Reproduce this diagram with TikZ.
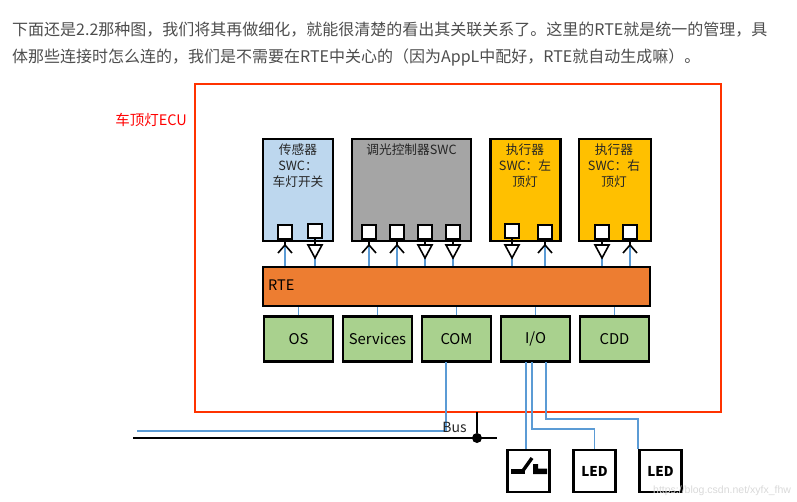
\documentclass[tikz,border=0pt]{standalone}
\usepackage{xcolor}
\usepackage{fontspec}
\setmainfont{Noto Sans CJK SC}
\newfontfamily\markfont{Liberation Sans}
\usepackage{tikz}
\usetikzlibrary{arrows.meta,positioning,shapes.geometric,calc}
\definecolor{swcblue}{HTML}{BDD7EE}
\definecolor{swcgray}{HTML}{A5A5A5}
\definecolor{swcyellow}{HTML}{FFC000}
\definecolor{rteorange}{HTML}{ED7D31}
\definecolor{bswgreen}{HTML}{A9D18E}
\definecolor{wireblue}{HTML}{5B9BD5}
\definecolor{framered}{HTML}{FF3300}
\definecolor{bodygray}{HTML}{4D4D4D}
\tikzset{
    swc/.style={
        draw,
        line width=2.1pt,
        minimum height=102pt,
        minimum width=70pt
    },
    swctext/.style={
        align=center,
        font=\fontsize{12.7}{16}\selectfont,
        text=black!85,
        inner sep=0pt
    },
    bsw/.style={
        draw,
        line width=2.1pt,
        minimum height=45pt,
        minimum width=68.5pt,
        fill=bswgreen,
        font=\fontsize{14.8}{16}\selectfont
    },
    periph/.style={
        draw,
        line width=2.1pt,
        minimum size=42pt,
        font=\bfseries\fontsize{13.5}{16}\selectfont
    },
    port/.style={
        draw,
        fill=white,
        line width=2pt,
        minimum size=14pt,
        inner sep=0pt
    },
    wire/.style={wireblue, line width=1.5pt},
    para/.style={
        anchor=west,
        text=bodygray,
        inner sep=0pt,
        font=\fontsize{16}{18}\selectfont
    }
}
% one port with the head pointing up, towards the swc
\newcommand{\portin}[3]{
    \node[port] (#1) at (#2,#3) {};
    \coordinate (#1tip) at (#2,245);
    \draw[wire] (#1tip) -- (#1tip |- rte.north);
    \draw[line width=1.6pt] (#1) -- (#1tip);
    \draw[line width=1.6pt] ($(#1tip)+(-7,8)$) -- (#1tip) -- ($(#1tip)+(7,8)$);
}
% one port with the triangle pointing down, towards the rte
\newcommand{\portout}[3]{
    \node[port] (#1) at (#2,#3) {};
    \coordinate (#1tip) at (#2,258);
    \draw[wire] (#1tip) -- (#1tip |- rte.north);
    \draw[line width=1.6pt] (#1) -- (#2,245);
    \draw[line width=1.6pt] (#2-7,245) -- (#2+7,245) -- (#1tip) -- cycle;
}
\begin{document}
\begin{tikzpicture}[x=1pt,y=-1pt,node distance=8.4pt and 8.4pt]
    \useasboundingbox (0,0) rectangle (797,501);

    \node[para] (line1) at (12,30) {下面还是2.2那种图，我们将其再做细化，就能很清楚的看出其关联关系了。这里的RTE就是统一的管理，具};
    \node[para] (line2) at (12,57) {体那些连接时怎么连的，我们是不需要在RTE中关心的（因为AppL中配好，RTE就自动生成嘛）。};

    \node[draw=framered, line width=1.5pt, minimum width=526pt, minimum height=328pt] (ecu) at (458,248) {};
    \node[text=red, inner sep=0pt, font=\fontsize{14.5}{16}\selectfont, anchor=east] (ecuname) at (187,120) {车顶灯ECU};

    \node[draw, line width=2.1pt, fill=rteorange, minimum width=387pt, minimum height=39pt] (rte) at (456.5,286.5) {};
    \node[anchor=west, inner sep=0pt, font=\fontsize{14.5}{16}\selectfont] (rtename) at (268,285.5) {RTE};

    \node[swc, fill=swcblue] (sensor) at (298,190) {};
    \node[swc, fill=swcgray, minimum width=119pt] (dimmer) at (411.5,190) {};
    \node[swc, fill=swcyellow] (left) at (525.5,190) {};
    \node[swc, fill=swcyellow, minimum width=72pt] (right) at (615,190) {};

    \node[swctext, anchor=north] (sensorname) at (298,144) {传感器\\SWC：\\车灯开关};
    \node[swctext, anchor=north] (dimmername) at (411.5,144) {调光控制器SWC};
    \node[swctext, anchor=north] (leftname) at (525,144) {执行器\\SWC：左\\顶灯};
    \node[swctext, anchor=north] (rightname) at (614,144) {执行器\\SWC：右\\顶灯};

    \portin{s1}{285}{232}
    \portout{s2}{315}{231}
    \portin{d1}{369}{232}
    \portin{d2}{397}{232}
    \portout{d3}{425}{232}
    \portout{d4}{453}{232}
    \portout{l1}{512}{231}
    \portin{l2}{545}{232}
    \portout{r1}{602}{232}
    \portin{r2}{630}{232}

    \node[bsw] (os) at (298.5,339) {OS};
    \node[bsw, right=of os] (services) {Services};
    \node[bsw, right=of services] (com) {COM};
    \node[bsw, right=of com] (io) {I/O};
    \node[bsw, right=of io] (cdd) {CDD};

    \draw[wire] (os.north) -- (os.north |- rte.south);
    \draw[wire] (services.north) -- (services.north |- rte.south);
    \draw[wire] (com.north) -- (com.north |- rte.south);
    \draw[wire] (io.north) -- (io.north |- rte.south);
    \draw[wire] (cdd.north) -- (cdd.north |- rte.south);

    \node[periph] (switch) at (528.5,471) {};
    \node[periph] (led1) at (594.5,471) {LED};
    \node[periph] (led2) at (660.5,471) {LED};
    \fill (511,468.5) rectangle (525,474);
    \draw[line width=3.4pt] (522,472) -- (532,458);
    \fill (533,464) rectangle (538,474) (533,468.5) rectangle (547,474);

    \coordinate (buswire) at (137,431);
    \coordinate (busl) at (133,438);
    \coordinate (busr) at (497,438);
    \coordinate (tap) at (477,412);
    \draw[wire] (446,362) -- (446,431) -- (buswire);
    \draw[line width=1.5pt] (busl) -- (busr);
    \node[circle, fill, inner sep=0pt, minimum size=10pt] (busdot) at (477,438) {};
    \draw[line width=1.8pt] (tap) -- (busdot);
    \node[inner sep=0pt, font=\fontsize{14}{16}\selectfont, text=black!85] (busname) at (454.5,427) {Bus};

    \draw[wire] (526,362) -- (526,449);
    \draw[wire] (532,362) -- (532,429) -- (led1.north |- 0,429) -- (led1.north);
    \draw[wire] (546,362) -- (546,419) -- (638,419) -- (638,449);

    \node[anchor=west, inner sep=0pt, text=black!15, font=\markfont\fontsize{10.5}{12}\selectfont] (mark) at (653,491) {https://blog.csdn.net/xyfx\_fhw};
\end{tikzpicture}
\end{document}
